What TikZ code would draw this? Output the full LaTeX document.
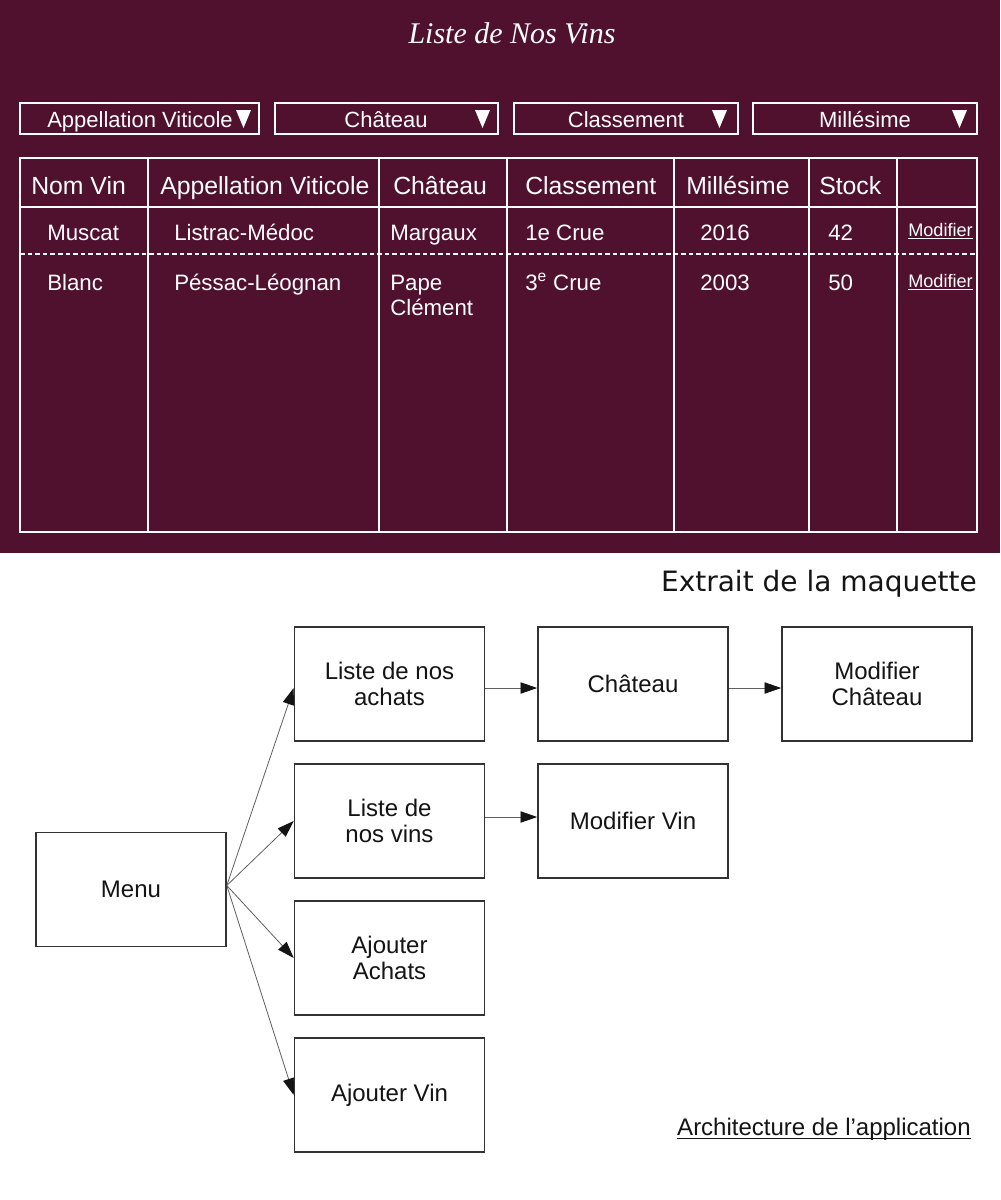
\documentclass[tikz,border=0pt]{standalone}
\usepackage{fontspec}
\setmainfont{Liberation Sans}
\newfontfamily\dejavu{DejaVu Sans}
\newfontfamily\titlefont{Liberation Serif}
\usetikzlibrary{arrows.meta}
\definecolor{wine}{RGB}{80,17,46}
\definecolor{boxline}{RGB}{50,50,50}
\definecolor{arrline}{RGB}{95,95,95}
\definecolor{ink}{RGB}{20,20,20}
\begin{document}
\begin{tikzpicture}[x=0.75pt,y=-0.75pt,
  cell/.style={anchor=base west,text=white,inner sep=0pt,font=\fontsize{16.7}{19}\selectfont},
  head/.style={anchor=base west,text=white,inner sep=0pt,font=\fontsize{18.6}{21}\selectfont},
  dd/.style={draw=white,line width=1.5pt},
  ddtext/.style={anchor=base,text=white,inner sep=0pt,font=\fontsize{16.5}{19}\selectfont},
  link/.style={anchor=base west,text=white,inner sep=0pt,font=\fontsize{13.6}{15}\selectfont},
  grid/.style={draw=white,line width=1.5pt},
  stepbox/.style={draw=boxline,line width=1.2pt,minimum width=142.5pt,minimum height=85.5pt,
    align=center,font=\fontsize{18}{19.5}\selectfont,text=ink,inner sep=0pt},
  arr/.style={draw=arrline,line width=0.6pt,-{Triangle[length=12.5pt,width=8.5pt,color=ink]}}
]
\useasboundingbox (0,0) rectangle (1000,1200);
\fill[white] (0,0) rectangle (1000,1200);
\fill[wine] (0,0) rectangle (1000,553);

% title
\node[anchor=base,text=white,inner sep=0pt,font=\titlefont\itshape\fontsize{22.5}{24}\selectfont] (title) at (512,43) {Liste de Nos Vins};

% dropdowns
\foreach \a/\b in {20/259, 275/498, 514/738, 753/977}
  \draw[dd] (\a,103) rectangle (\b,134);
\node[ddtext] (f1) at (140,127) {Appellation Viticole};
\node[ddtext] (f2) at (386,127) {Château};
\node[ddtext] (f3) at (626,127) {Classement};
\node[ddtext] (f4) at (865,127) {Millésime};
\foreach \t in {236,475,712,952}
  \fill[white] (\t,110) -- (\t+15,110) -- (\t+7.5,128) -- cycle;

% table
\draw[grid] (20,158) rectangle (977,532);
\draw[grid] (20,207) -- (977,207);
\foreach \x in {148,379,507,674,809,897}
  \draw[grid] (\x,158) -- (\x,532);
\draw[white,line width=1.5pt,dash pattern=on 3.5pt off 2.2pt] (20,254) -- (977,254);

\node[head] (h1) at (31,194) {Nom Vin};
\node[head] (h2) at (160,194) {Appellation Viticole};
\node[head] (h3) at (393,194) {Château};
\node[head] (h4) at (525,194) {Classement};
\node[head] (h5) at (686,194) {Millésime};
\node[head] (h6) at (819,194) {Stock};

\node[cell] (a1) at (47,240) {Muscat};
\node[cell] (a2) at (174,240) {Listrac-Médoc};
\node[cell] (a3) at (390,240) {Margaux};
\node[cell] (a4) at (525,240) {1e Crue};
\node[cell] (a5) at (700,240) {2016};
\node[cell] (a6) at (828,240) {42};
\node[link] (a7) at (908,236) {\underline{Modifier}};

\node[cell] (b1) at (47,290) {Blanc};
\node[cell] (b2) at (174,290) {Péssac-Léognan};
\node[cell] (b3) at (390,290) {Pape};
\node[cell] (b3b) at (390,315) {Clément};
\node[cell] (b4) at (525,290) {3\textsuperscript{e} Crue};
\node[cell] (b5) at (700,290) {2003};
\node[cell] (b6) at (828,290) {50};
\node[link] (b7) at (908,287) {\underline{Modifier}};

% captions
\node[anchor=base east,inner sep=0pt,text=ink,font=\dejavu\fontsize{21}{24}\selectfont] (extrait) at (977,591) {Extrait de la maquette};
\node[anchor=base east,inner sep=0pt,text=ink,font=\fontsize{18}{20}\selectfont] (arch) at (971,1135) {Architecture de l’application};
\draw[ink,line width=0.8pt] ([yshift=-2.4pt]arch.base west) -- ([yshift=-2.4pt]arch.base east);

% architecture diagram
\node[stepbox] (menu) at (131,889.5) {Menu};
\node[stepbox] (achats) at (389.5,684) {Liste de nos\\achats};
\node[stepbox] (chateau) at (633,684) {Château};
\node[stepbox] (modchateau) at (877,684) {Modifier\\Château};
\node[stepbox] (vins) at (389.5,821) {Liste de\\nos vins};
\node[stepbox] (modvin) at (633,821) {Modifier Vin};
\node[stepbox] (ajachats) at (389.5,958) {Ajouter\\Achats};
\node[stepbox] (ajvin) at (389.5,1095) {Ajouter Vin};

\coordinate (src) at ([yshift=3pt]menu.east);
\draw[arr] (src) -- ([yshift=-3pt]achats.west);
\draw[arr] (src) -- (vins.west);
\draw[arr] (src) -- (ajachats.west);
\draw[arr] (src) -- (ajvin.west);
\draw[arr] ([yshift=-3pt]achats.east) -- ([yshift=-3pt]chateau.west);
\draw[arr] ([yshift=-3pt]chateau.east) -- ([yshift=-3pt]modchateau.west);
\draw[arr] ([yshift=3pt]vins.east) -- ([yshift=3pt]modvin.west);
\end{tikzpicture}
\end{document}
